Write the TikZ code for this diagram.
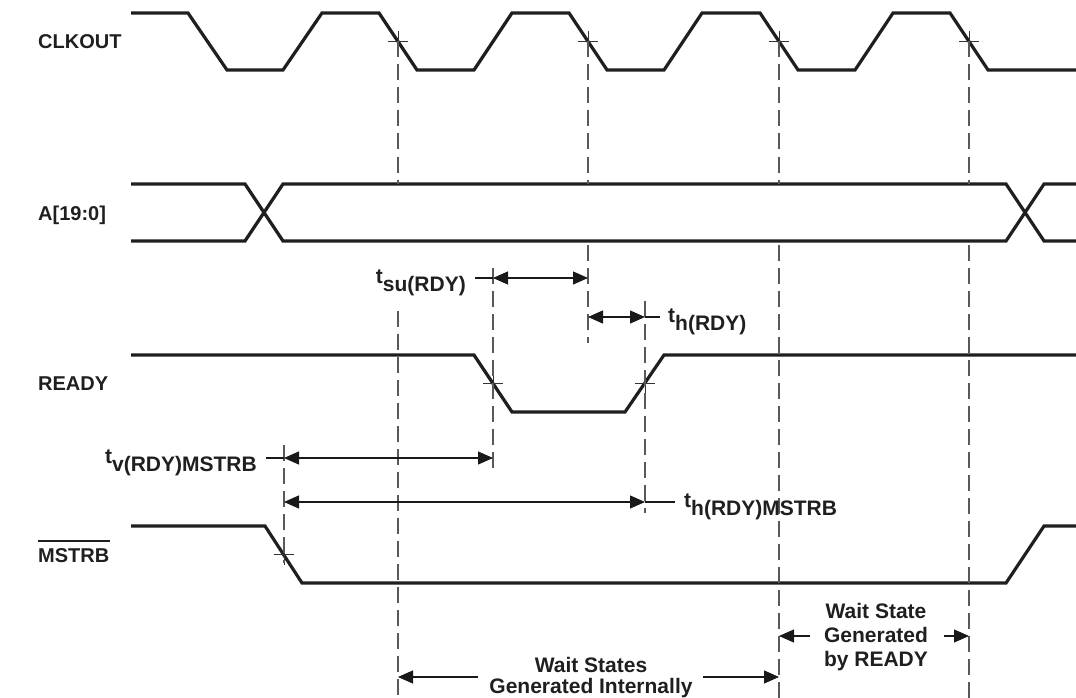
\documentclass[tikz,border=0pt]{standalone}
\usepackage{fontspec}
\setmainfont{Liberation Sans}
\usetikzlibrary{arrows.meta}
\newcommand\tlab[1]{t\raisebox{-8pt}{#1}}
\begin{document}
\begin{tikzpicture}[x=1pt,y=-1pt,
  sig/.style={line width=3.2pt, line join=miter, draw=black!88},
  guide/.style={line width=1.1pt, draw=black!65, dash pattern=on 16pt off 7pt},
  crossmark/.style={line width=0.9pt, draw=black!80},
  dimline/.style={line width=1.1pt, draw=black!90},
  dimarrow/.style={dimline, {Triangle[length=15pt,width=13pt]}-{Triangle[length=15pt,width=13pt]}},
  onearrow/.style={dimline, -{Triangle[length=15pt,width=13pt]}},
  siglabel/.style={inner sep=0pt, font=\fontsize{20}{22}\selectfont\bfseries, text=black!88},
  annot/.style={inner sep=0pt, font=\fontsize{21}{23}\selectfont\bfseries, text=black!88},
]
\useasboundingbox (0,0) rectangle (1076,698);

% ---------- signal names ----------
\node[siglabel, anchor=base west] (lclk) at (38,49) {CLKOUT};
\node[siglabel, anchor=base west] (laddr) at (38,220) {A[19:0]};
\node[siglabel, anchor=base west] (lrdy) at (38,390) {READY};
\node[siglabel, anchor=base west] (lmst) at (38,562) {MSTRB};
\draw[line width=2.6pt, draw=black!88] ([yshift=7pt]lmst.north west) -- ([yshift=7pt]lmst.north east);

% ---------- waveforms ----------
\draw[sig] (131,13) -- (188,13) -- (227,70) -- (283,70) -- (322,13) -- (379,13) -- (417,70)
  -- (474,70) -- (512,13) -- (569,13) -- (607,70) -- (664,70) -- (702,13) -- (760,13)
  -- (798,70) -- (855,70) -- (893,13) -- (950,13) -- (988,70) -- (1076,70);
\draw[sig] (131,184) -- (245,184) -- (283,241) -- (1006,241) -- (1044,184) -- (1076,184);
\draw[sig] (131,241) -- (245,241) -- (283,184) -- (1006,184) -- (1044,241) -- (1076,241);
\draw[sig] (131,355) -- (474,355) -- (512,412) -- (625,412) -- (664,355) -- (1076,355);
\draw[sig] (131,526) -- (265,526) -- (302,583) -- (1006,583) -- (1044,526) -- (1076,526);

% ---------- reference points ----------
\coordinate (c1) at (398,41.5);
\coordinate (c2) at (588,41.5);
\coordinate (c3) at (779,41.5);
\coordinate (c4) at (969,41.5);
\coordinate (rf) at (493,383.5);
\coordinate (rr) at (645,383.5);
\coordinate (mf) at (284,554.5);

% cross marks
\foreach \p in {c1,c2,c3,c4,rf,rr,mf}{
  \draw[crossmark] ([xshift=-10pt]\p) -- ([xshift=10pt]\p);
  \draw[crossmark] ([yshift=-10pt]\p) -- ([yshift=10pt]\p);
}

% ---------- guide lines ----------
\coordinate (g1a) at (398,184); \coordinate (g1b) at (398,311); \coordinate (g1c) at (398,698);
\coordinate (g2a) at (588,184); \coordinate (g2b) at (588,245); \coordinate (g2c) at (588,343);
\coordinate (g3a) at (779,184); \coordinate (g3b) at (779,245); \coordinate (g3c) at (779,698);
\coordinate (g4a) at (969,184); \coordinate (g4b) at (969,245); \coordinate (g4c) at (969,698);
\coordinate (g5a) at (493,268); \coordinate (g5b) at (493,473);
\coordinate (g6a) at (645,301); \coordinate (g6b) at (645,513);
\coordinate (g7a) at (284,445); \coordinate (g7b) at (284,563);

\draw[guide] (c1) -- (g1a);  \draw[guide] (g1b) -- (g1c);
\draw[guide] (c2) -- (g2a);  \draw[guide] (g2b) -- (g2c);
\draw[guide] (c3) -- (g3a);  \draw[guide] (g3b) -- (g3c);
\draw[guide] (c4) -- (g4a);  \draw[guide] (g4b) -- (g4c);
\draw[guide] (g5a) -- (g5b);
\draw[guide] (g6a) -- (g6b);
\draw[guide] (g7a) -- (g7b);

% ---------- timing annotations ----------
% t_su(RDY)
\coordinate (su1) at (493,278); \coordinate (su2) at (588,278); \coordinate (suext) at (475,278);
\node[annot, anchor=base east] (lsu) at (466,283) {\tlab{su(RDY)}};
\draw[dimline] (suext) -- (su1);
\draw[dimarrow] (su1) -- (su2);

% t_h(RDY)
\coordinate (h1) at (588,317); \coordinate (h2) at (645,317); \coordinate (hext) at (660,317);
\node[annot, anchor=base west] (lh) at (668,322) {\tlab{h(RDY)}};
\draw[dimarrow] (h1) -- (h2);
\draw[dimline] (h2) -- (hext);

% t_v(RDY)MSTRB
\coordinate (v1) at (284,458); \coordinate (v2) at (493,458); \coordinate (vext) at (266,458);
\node[annot, anchor=base east] (lv) at (257,463) {\tlab{v(RDY)MSTRB}};
\draw[dimline] (vext) -- (v1);
\draw[dimarrow] (v1) -- (v2);

% t_h(RDY)MSTRB
\coordinate (hm1) at (284,502); \coordinate (hm2) at (645,502); \coordinate (hmext) at (675,502);
\node[annot, anchor=base west] (lhm) at (684,507) {\tlab{h(RDY)MSTRB}};
\draw[dimarrow] (hm1) -- (hm2);
\draw[dimline] (hm2) -- (hmext);

% ---------- wait state spans ----------
\node[annot, align=center, font=\fontsize{21}{21}\selectfont\bfseries, anchor=base] (wsi) at (591,693)
  {Wait States\\Generated Internally};
\coordinate (wi1) at (398,677); \coordinate (wi1s) at (478,677);
\coordinate (wi2) at (779,677); \coordinate (wi2s) at (703,677);
\draw[onearrow] (wi1s) -- (wi1);
\draw[onearrow] (wi2s) -- (wi2);

\node[annot, align=center, font=\fontsize{21}{24}\selectfont\bfseries, anchor=base] (wsr) at (876,666)
  {Wait State\\Generated\\by READY};
\coordinate (wr1) at (779,636); \coordinate (wr1s) at (810,636);
\coordinate (wr2) at (969,636); \coordinate (wr2s) at (944,636);
\draw[onearrow] (wr1s) -- (wr1);
\draw[onearrow] (wr2s) -- (wr2);
\end{tikzpicture}
\end{document}
